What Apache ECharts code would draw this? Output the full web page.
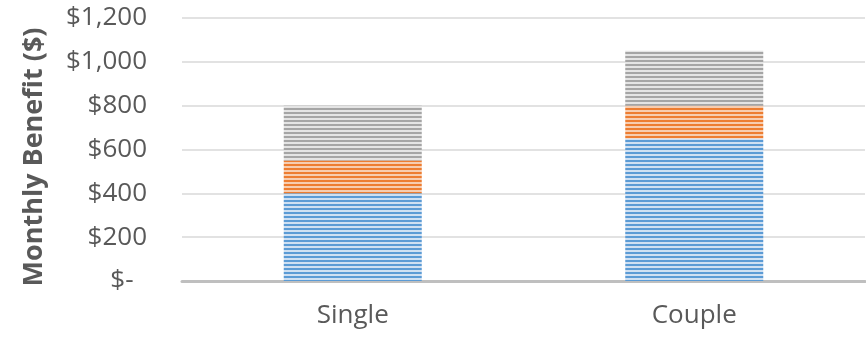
<!DOCTYPE html>
<html>
<head>
<meta charset="utf-8">
<script src="https://cdn.jsdelivr.net/npm/echarts@6/dist/echarts.min.js"></script>
<style>
  html, body { margin: 0; padding: 0; background: #ffffff; }
  #chart { width: 866px; height: 338px; }
</style>
</head>
<body>
<div id="chart"></div>
<script>
// Household types on the category axis
const categories = ['Single', 'Couple'];
// Stacked monthly benefit components (USD)
const baseBenefit = [400, 650];
const middleBenefit = [150, 150];
const topBenefit = [250, 250];
// Value axis range and step
const yMin = 0;
const yMax = 1200;
const yStep = 200;

// Horizontal-stripe fill: 2px solid colour over 2px lighter tint
function stripes(solid, light) {
  const c = document.createElement('canvas');
  c.width = 4;
  c.height = 4;
  const ctx = c.getContext('2d');
  ctx.fillStyle = light;
  ctx.fillRect(0, 0, 4, 4);
  ctx.fillStyle = solid;
  ctx.fillRect(0, 0, 4, 2);
  return { image: c, repeat: 'repeat' };
}

const fillBlue = stripes('#5b9bd5', '#cfe0f2');
const fillOrange = stripes('#ed7d31', '#f7cdb0');
const fillGray = stripes('#a5a5a5', '#e4e4e4');

function money(v) {
  if (v === 0) return '$-  ';
  return '$' + v.toLocaleString('en-US');
}

const chart = echarts.init(document.getElementById('chart'), null, { renderer: 'canvas' });

const labelFont = '"Open Sans", "Noto Sans", sans-serif';

chart.setOption({
  animation: false,
  backgroundColor: '#ffffff',
  grid: { left: 182, right: 1, top: 18, bottom: 57, containLabel: false },
  xAxis: {
    type: 'category',
    data: categories,
    axisLine: { show: true, lineStyle: { color: '#bfbfbf', width: 3 } },
    axisTick: { show: false },
    axisLabel: { color: '#595959', fontSize: 26, fontFamily: labelFont, margin: 22 }
  },
  yAxis: {
    type: 'value',
    min: yMin,
    max: yMax,
    interval: yStep,
    name: 'Monthly Benefit ($)',
    nameLocation: 'middle',
    nameGap: 134,
    nameTextStyle: {
      color: '#595959',
      fontSize: 27,
      fontWeight: 'bold',
      fontFamily: labelFont,
      padding: [0, 15, 0, 0]
    },
    axisLine: { show: false },
    axisTick: { show: false },
    splitLine: { show: true, lineStyle: { color: '#d9d9d9', width: 1.5 } },
    axisLabel: {
      color: '#595959',
      fontSize: 26,
      fontFamily: labelFont,
      margin: 35,
      formatter: money
    }
  },
  series: [
    {
      name: 'Base',
      type: 'bar',
      stack: 'total',
      barWidth: 138,
      data: baseBenefit,
      itemStyle: { color: fillBlue }
    },
    {
      name: 'Middle',
      type: 'bar',
      stack: 'total',
      barWidth: 138,
      data: middleBenefit,
      itemStyle: { color: fillOrange }
    },
    {
      name: 'Top',
      type: 'bar',
      stack: 'total',
      barWidth: 138,
      data: topBenefit,
      itemStyle: { color: fillGray }
    }
  ]
});
</script>
</body>
</html>
